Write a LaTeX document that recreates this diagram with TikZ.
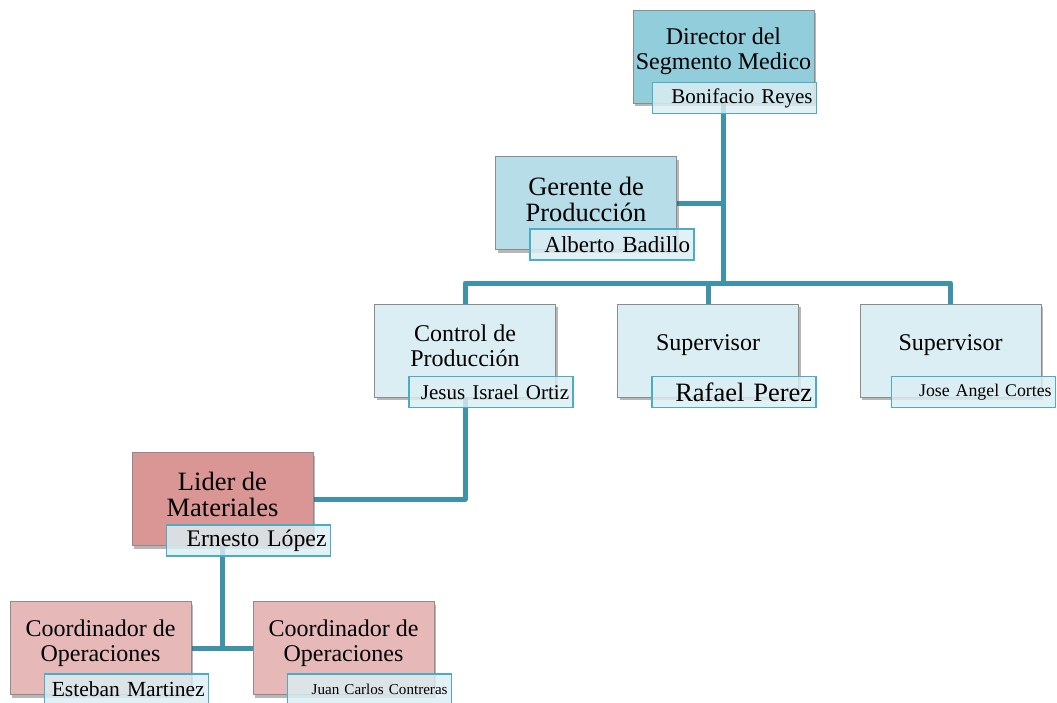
\documentclass[tikz,border=0pt]{standalone}
\usepackage{fontspec}
\setmainfont{Liberation Serif}
\definecolor{OrgLine}{HTML}{3E93AB}
\definecolor{OrgTeal}{HTML}{4BACC6}
\definecolor{OrgTop}{HTML}{92CDDC}
\definecolor{OrgMid}{HTML}{B7DEE8}
\definecolor{OrgLow}{HTML}{DAEEF3}
\definecolor{OrgRose}{HTML}{D99694}
\definecolor{OrgPink}{HTML}{E6B9B8}
\definecolor{OrgPale}{HTML}{DCEEF3}
\definecolor{OrgEdge}{HTML}{8C8C8C}
\usetikzlibrary{positioning,shadows,backgrounds}
\newcommand{\orgsize}[1]{\fontsize{#1}{#1}\selectfont}

\begin{document}
\begin{tikzpicture}[x=1pt, y=-1pt,
    post/.style={draw=OrgEdge, line width=0.8pt, minimum width=181, minimum height=93,
      inner sep=0pt, drop shadow={shadow xshift=2pt, shadow yshift=-3pt, opacity=.4, fill=black!70}},
    title/.style={align=center, inner sep=0pt, font=\fontsize{24}{25}\selectfont},
    who/.style={draw=OrgTeal, line width=1.6pt, fill=OrgPale, fill opacity=.82, text opacity=1,
      minimum height=31, inner xsep=4pt, inner ysep=0pt, text width=156, align=right, anchor=south east},
    link/.style={draw=OrgLine, line width=5pt, line join=round}]
  \useasboundingbox (0,0) rectangle (1057,702);

  % top
  \node[post, fill=OrgTop] (dir) at (723.5,56.5) {};
  \node[title] (dirT) at ([yshift=5pt]dir.center) {Director del\\Segmento Medico};
  \node[who, font=\orgsize{21}] (dirN) at ([xshift=3pt,yshift=-11pt]dir.south east) {Bonifacio Reyes};

  \node[post, fill=OrgMid] (ger) at (586,203) {};
  \node[title, font=\fontsize{26.5}{26}\selectfont] (gerT) at ([yshift=4pt]ger.center) {Gerente de\\Producción};
  \node[who, font=\orgsize{23}] (gerN) at ([xshift=18pt,yshift=-11pt]ger.south east) {Alberto Badillo};

  % third row
  \node[post, fill=OrgLow] (ctl) at (465,350.5) {};
  \node[title] (ctlT) at ([yshift=5pt]ctl.center) {Control de\\Producción};
  \node[who, font=\orgsize{21}] (ctlN) at ([xshift=18pt,yshift=-11pt]ctl.south east) {Jesus Israel Ortiz};

  \node[post, fill=OrgLow] (sup1) at (708,350.5) {};
  \node[title] (sup1T) at ([yshift=5pt]sup1.center) {Supervisor};
  \node[who, font=\orgsize{26.5}] (sup1N) at ([xshift=18pt,yshift=-11pt]sup1.south east) {Rafael Perez};

  \node[post, fill=OrgLow] (sup2) at (950.5,350.5) {};
  \node[title] (sup2T) at ([yshift=5pt]sup2.center) {Supervisor};
  \node[who, font=\orgsize{17.8}] (sup2N) at ([xshift=15pt,yshift=-11pt]sup2.south east) {Jose Angel Cortes};

  % materials
  \node[post, fill=OrgRose] (lid) at (222.5,499) {};
  \node[title, font=\fontsize{26.5}{26}\selectfont] (lidT) at ([yshift=5pt]lid.center) {Lider de\\Materiales};
  \node[who, font=\orgsize{23.8}] (lidN) at ([xshift=18pt,yshift=-11pt]lid.south east) {Ernesto López};

  \node[post, fill=OrgPink] (co1) at (100.5,648) {};
  \node[title] (co1T) at ([yshift=5pt]co1.center) {Coordinador de\\Operaciones};
  \node[who, font=\orgsize{21.5}] (co1N) at ([xshift=18pt,yshift=-11pt]co1.south east) {Esteban Martinez};

  \node[post, fill=OrgPink] (co2) at (343.5,648) {};
  \node[title] (co2T) at ([yshift=5pt]co2.center) {Coordinador de\\Operaciones};
  \node[who, font=\orgsize{15.1}] (co2N) at ([xshift=18pt,yshift=-11pt]co2.south east) {Juan Carlos Contreras};

  % connectors
  \begin{scope}[on background layer]
    \coordinate (bus) at (dir.south |- 0,283);
    \draw[link] (dir.south) -- (bus);
    \draw[link] (ger.east) -- (ger.east -| bus);
    \draw[link] (ctl.north) |- (bus) -| (sup2.north);
    \draw[link] (sup1.north) -- (sup1.north |- bus);
    \draw[link] (ctl.south) |- (lid.east);
    \draw[link] (lid.south) -- (lid.south |- co1.east);
    \draw[link] (co1.east) -- (co2.west);
  \end{scope}
\end{tikzpicture}
\end{document}
